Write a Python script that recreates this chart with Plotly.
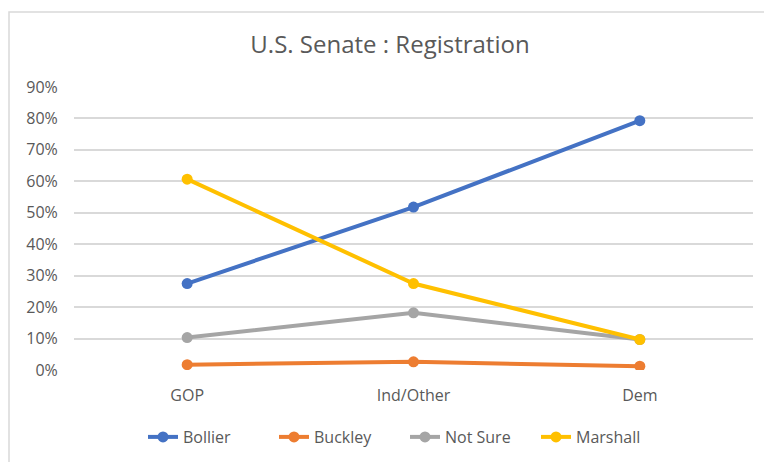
import plotly.graph_objects as go

categories = ["GOP", "Ind/Other", "Dem"]
bollier = [0.275, 0.518, 0.793]
buckley = [0.017, 0.026, 0.012]
not_sure = [0.103, 0.182, 0.097]
marshall = [0.607, 0.275, 0.097]
series_names = ["Bollier", "Buckley", "Not Sure", "Marshall"]
series_colors = ["#4472C4", "#ED7D31", "#A5A5A5", "#FFC000"]
tick_vals = [0, 0.1, 0.2, 0.3, 0.4, 0.5, 0.6, 0.7, 0.8, 0.9]

fig = go.Figure()
for name, vals, col in zip(series_names, [bollier, buckley, not_sure, marshall], series_colors):
    fig.add_trace(go.Scatter(
        x=categories, y=vals, name=name, mode="lines+markers",
        line=dict(color=col, width=4), marker=dict(color=col, size=11),
    ))

OFF = 8  # page body margin
W, H = 772 - OFF, 462 - OFF
L, R, T = 74 - OFF, 19, 87 - OFF
B = H - (370 - OFF)
pw, ph = W - L - R, H - T - B

def px_x(p):
    return (p - OFF - L) / pw

def px_y(p):
    return (H - B - (p - OFF)) / ph

FONT = "Open Sans"
fig.update_layout(
    width=W, height=H, autosize=False,
    margin=dict(l=L, r=R, t=T, b=B, autoexpand=False),
    paper_bgcolor="white", plot_bgcolor="white",
    font=dict(family=FONT, color="#595959", size=16),
    title=dict(text="U.S. Senate : Registration", x=0.5, xanchor="center",
               y=1 - (45 - OFF) / H, yanchor="middle",
               font=dict(family=FONT, size=24, color="#595959")),
    showlegend=True,
    legend=dict(orientation="h", x=px_x(143), xanchor="left", y=px_y(437), yanchor="middle",
                font=dict(family=FONT, size=16, color="#595959"),
                entrywidth=86, entrywidthmode="pixels", traceorder="normal"),
    xaxis=dict(range=[-0.5, 2.5], showgrid=False, zeroline=False, showline=False,
               automargin=False,
               ticks="outside", ticklen=11, tickcolor="rgba(0,0,0,0)",
               tickfont=dict(family=FONT, size=16, color="#595959")),
    yaxis=dict(range=[0, 0.9], tickvals=tick_vals, tickformat=".0%",
               automargin=False,
               showgrid=True, gridcolor="#D9D9D9", gridwidth=1.5,
               zeroline=False, showline=False,
               ticks="outside", ticklen=12, tickcolor="rgba(0,0,0,0)",
               tickfont=dict(family=FONT, size=16, color="#595959")),
    shapes=[dict(type="rect", xref="paper", yref="paper",
                 x0=px_x(9), x1=px_x(800), y0=px_y(480), y1=px_y(12),
                 line=dict(color="#D9D9D9", width=1.5), fillcolor="rgba(0,0,0,0)",
                 layer="below")],
)

fig.write_html("out.html")
